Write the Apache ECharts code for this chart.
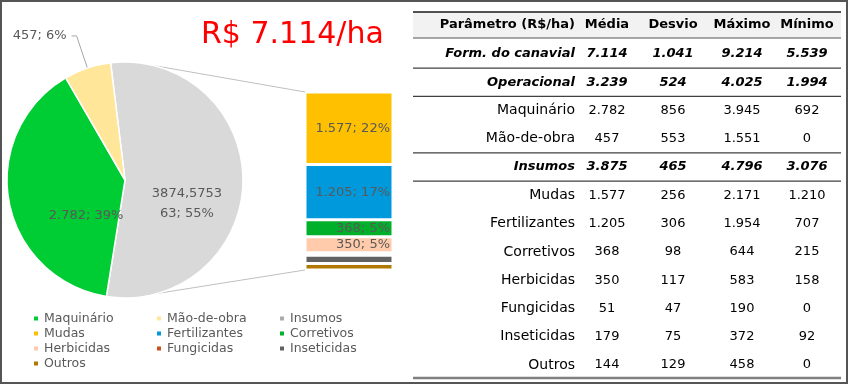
<!DOCTYPE html>
<html><head><meta charset="utf-8">
<script src="https://cdn.jsdelivr.net/npm/echarts/dist/echarts.min.js"></script>
<style>html,body{margin:0;padding:0;background:#fff}#c{width:848px;height:384px}</style>
</head><body><div id="c"></div>
<script>
// ---------- data ----------
const titleText = 'R$ 7.114/ha';
const pieNames = ['Insumos', 'Maquinário', 'Mão-de-obra'];
const pieValues = [3874.575363, 2782, 457];
const pieLabels = ['3874,5753\n63; 55%', '2.782; 39%', '457; 6%'];
const barNames = ['Mudas', 'Fertilizantes', 'Corretivos', 'Herbicidas', 'Fungicidas', 'Inseticidas', 'Outros'];
const barValues = [1577, 1205, 368, 350, 51, 179, 144];
const barLabels = ['1.577; 22%', '1.205; 17%', '368; 5%', '350; 5%', '', '', ''];

const tableHeader = ['Parâmetro (R$/ha)', 'Média', 'Desvio', 'Máximo', 'Mínimo'];
const tableRows = ['Form. do canavial', 'Operacional', 'Maquinário', 'Mão-de-obra', 'Insumos', 'Mudas', 'Fertilizantes', 'Corretivos', 'Herbicidas', 'Fungicidas', 'Inseticidas', 'Outros'];
const colMedia = ['7.114', '3.239', '2.782', '457', '3.875', '1.577', '1.205', '368', '350', '51', '179', '144'];
const colDesvio = ['1.041', '524', '856', '553', '465', '256', '306', '98', '117', '47', '75', '129'];
const colMaximo = ['9.214', '4.025', '3.945', '1.551', '4.796', '2.171', '1.954', '644', '583', '190', '372', '458'];
const colMinimo = ['5.539', '1.994', '692', '0', '3.076', '1.210', '707', '215', '158', '0', '92', '0'];
const boldRows = ['Form. do canavial', 'Operacional', 'Insumos'];
const lineAfterRows = ['Form. do canavial', 'Operacional', 'Mão-de-obra', 'Insumos'];

// ---------- styles ----------
const FONT = 'DejaVu Sans';
const TXT = '#595959';
const colors = {
  'Insumos': '#d9d9d9', 'Maquinário': '#00cc33', 'Mão-de-obra': '#ffe699',
  'Mudas': '#ffc000', 'Fertilizantes': '#0099dc', 'Corretivos': '#00b02a',
  'Herbicidas': '#ffcbaa', 'Fungicidas': '#c9501c', 'Inseticidas': '#626262', 'Outros': '#b07800'
};
const legendColors = Object.assign({}, colors, { 'Insumos': '#ababab' });
const PIE = { cx: 125, cy: 180, r: 118 };
const BAR = { left: 305, top: 92, width: 88, height: 178 };
const barTotal = barValues.reduce((a, b) => a + b, 0);

const chart = echarts.init(document.getElementById('c'), null, { renderer: 'canvas' });

const labelShift = { 'Insumos': { dx: 0, dy: 11 }, 'Maquinário': { dx: 11, dy: 12 } };
const series = [{
  type: 'pie', center: [PIE.cx, PIE.cy], radius: PIE.r, startAngle: 97, clockwise: true,
  animation: false,
  itemStyle: { borderColor: '#fff', borderWidth: 1.5 },
  label: { show: true, position: 'inside', color: TXT, fontSize: 13, fontFamily: FONT, lineHeight: 20,
    formatter: p => pieLabels[p.dataIndex] },
  labelLayout: p => labelShift[pieNames[p.dataIndex]] || {},
  data: pieNames.map((n, i) => {
    const d = { name: n, value: pieValues[i], itemStyle: { color: colors[n] } };
    if (n === 'Mão-de-obra') {
      d.label = { position: 'outside' };
      d.labelLine = { show: true, length: 34, length2: 5, lineStyle: { color: '#a6a6a6', width: 1 } };
    }
    return d;
  })
}];
for (let i = barNames.length - 1; i >= 0; i--) {
  const n = barNames[i];
  series.push({
    type: 'bar', name: n, stack: 'ins', barWidth: '100%', animation: false,
    itemStyle: { color: colors[n], borderColor: '#fff', borderWidth: 1.5 },
    label: { show: barLabels[i] !== '', position: 'insideRight', distance: 3, color: TXT, fontSize: 13, fontFamily: FONT,
      formatter: () => barLabels[i] },
    data: [barValues[i]]
  });
}

const legendCols = [
  { left: 32, names: ['Maquinário', 'Mudas', 'Herbicidas', 'Outros'] },
  { left: 155, names: ['Mão-de-obra', 'Fertilizantes', 'Fungicidas'] },
  { left: 278, names: ['Insumos', 'Corretivos', 'Inseticidas'] }
];
const legends = legendCols.map(c => ({
  orient: 'vertical', left: c.left, top: 311, padding: 0, itemGap: 0,
  itemWidth: 6, itemHeight: 6, icon: 'rect', selectedMode: false,
  textStyle: { color: TXT, fontSize: 12.5, fontFamily: FONT, lineHeight: 15 },
  data: c.names.map(n => ({ name: n, itemStyle: { color: legendColors[n] } }))
}));

// ---------- table ----------
const T = { x1: 413, x2: 841, headTop: 12, headBot: 38, headY: 25, row0: 54, pitch: 28.27,
  labelRight: 575, cols: [607, 673, 742, 807] };
const g = [];
g.push({ type: 'rect', shape: { x: 1, y: 1, width: 846, height: 382 }, style: { fill: 'none', stroke: '#555', lineWidth: 2 } });
g.push({ type: 'rect', shape: { x: T.x1, y: T.headTop, width: T.x2 - T.x1, height: T.headBot - T.headTop }, style: { fill: '#f2f2f2' } });
g.push({ type: 'line', shape: { x1: T.x1, y1: T.headTop, x2: T.x2, y2: T.headTop }, style: { stroke: '#505050', lineWidth: 2 } });
g.push({ type: 'line', shape: { x1: T.x1, y1: T.headBot, x2: T.x2, y2: T.headBot }, style: { stroke: '#8a8a8a', lineWidth: 1.5 } });
tableHeader.forEach((h, j) => {
  g.push({ type: 'text', x: j === 0 ? T.labelRight : T.cols[j - 1], y: T.headY,
    style: { text: h, align: j === 0 ? 'right' : 'center', verticalAlign: 'middle', fill: '#000',
      fontSize: 13, fontWeight: 'bold', fontFamily: FONT } });
});
const cols = [colMedia, colDesvio, colMaximo, colMinimo];
tableRows.forEach((r, i) => {
  const y = T.row0 + i * T.pitch;
  const bold = boldRows.includes(r);
  g.push({ type: 'text', x: T.labelRight, y,
    style: { text: r, align: 'right', verticalAlign: 'middle', fill: '#000',
      fontSize: bold ? 13 : 14, fontWeight: bold ? 'bold' : 'normal', fontStyle: bold ? 'italic' : 'normal', fontFamily: FONT } });
  cols.forEach((c, j) => {
    g.push({ type: 'text', x: T.cols[j], y,
      style: { text: c[i], align: 'center', verticalAlign: 'middle', fill: '#000',
        fontSize: 13, fontWeight: bold ? 'bold' : 'normal', fontStyle: bold ? 'italic' : 'normal', fontFamily: FONT } });
  });
  if (lineAfterRows.includes(r)) {
    const ly = y + T.pitch / 2;
    g.push({ type: 'line', shape: { x1: T.x1, y1: ly, x2: T.x2, y2: ly }, style: { stroke: '#404040', lineWidth: 1.3 } });
  }
});
const lastY = T.row0 + (tableRows.length - 1) * T.pitch + 13;
g.push({ type: 'line', shape: { x1: T.x1, y1: lastY, x2: T.x2, y2: lastY }, style: { stroke: '#808080', lineWidth: 2.5 } });

chart.setOption({
  animation: false,
  title: { text: titleText, left: 196, top: 15, textStyle: { color: '#ff0000', fontSize: 30, fontWeight: 'normal', fontFamily: FONT } },
  legend: legends,
  grid: { left: BAR.left, top: BAR.top, width: BAR.width, height: BAR.height },
  xAxis: { type: 'category', data: ['Insumos'], show: false },
  yAxis: { type: 'value', min: 0, max: barTotal, show: false },
  series,
  graphic: g
});

// connector lines from pie to bar
const pTop = chart.convertToPixel({ xAxisIndex: 0, yAxisIndex: 0 }, [0, barTotal]);
const pBot = chart.convertToPixel({ xAxisIndex: 0, yAxisIndex: 0 }, [0, 0]);
const deg = Math.PI / 180;
const a1 = 76 * deg, a2 = -74 * deg;
chart.setOption({
  graphic: g.concat([
    { type: 'line', shape: { x1: PIE.cx + PIE.r * Math.cos(a1), y1: PIE.cy - PIE.r * Math.sin(a1), x2: BAR.left, y2: pTop[1] }, style: { stroke: '#bfbfbf', lineWidth: 1 } },
    { type: 'line', shape: { x1: PIE.cx + PIE.r * Math.cos(a2), y1: PIE.cy - PIE.r * Math.sin(a2), x2: BAR.left, y2: pBot[1] }, style: { stroke: '#bfbfbf', lineWidth: 1 } }
  ])
});
</script>
</body></html>
